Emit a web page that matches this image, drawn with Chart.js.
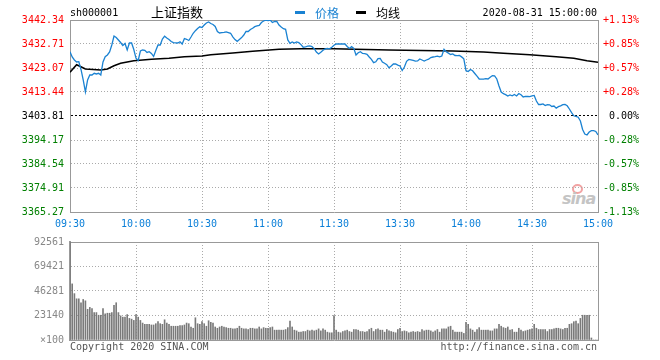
<!DOCTYPE html>
<html><head><meta charset="utf-8">
<script src="https://cdn.jsdelivr.net/npm/chart.js@4/dist/chart.umd.min.js"></script>
<style>
html,body{margin:0;padding:0;background:#fff;}
#wrap{position:relative;width:660px;height:360px;overflow:hidden;background:#fff;}
#c1{position:absolute;left:0;top:0;}
#c2{position:absolute;left:0;top:230px;}
.t{position:absolute;white-space:nowrap;font-family:"DejaVu Sans Mono",monospace;font-size:10px;line-height:12px;}
.cjk{position:absolute;white-space:nowrap;font-family:"Noto Sans CJK SC",sans-serif;}
.bar{position:absolute;height:3px;}
</style></head><body>
<div id="wrap">
<div style="position:absolute;left:572px;top:184px;width:7px;height:6px;border-radius:50%;border:2px solid #f2a3a3;"></div>
<div style="position:absolute;left:562px;top:189px;font:italic bold 16px 'DejaVu Sans',sans-serif;color:#c4c4c4;letter-spacing:-1px;">sina</div>
<canvas id="c1" width="660" height="232"></canvas>
<canvas id="c2" width="660" height="130"></canvas>
<div class="t" style="left:70px;top:7px;color:#000">sh000001</div>
<div class="cjk" style="left:151px;top:4px;font-size:13px;line-height:16px;color:#000">上证指数</div>
<div class="bar" style="left:295px;top:11px;width:10px;background:#1a82d2"></div>
<div class="cjk" style="left:315px;top:5px;font-size:12px;line-height:15px;color:#1a82d2">价格</div>
<div class="bar" style="left:356px;top:11px;width:10px;background:#000"></div>
<div class="cjk" style="left:376px;top:5px;font-size:12px;line-height:15px;color:#000">均线</div>
<div class="t" style="right:63px;top:7px;color:#000">2020-08-31 15:00:00</div>
<div class="t" style="left:70px;top:341px;color:#555">Copyright 2020 SINA.COM</div>
<div class="t" style="right:63px;top:341px;color:#555">http://finance.sina.com.cn</div>
</div>
<script>
// ---- data ----
const preClose = 3403.81;
const timeLabels = ['09:30','10:00','10:30','11:00','11:30','13:30','14:00','14:30','15:00'];
const timeTickMinutes = [0,30,60,90,120,150,180,210,240];
const priceTicks = [3365.27,3374.91,3384.54,3394.17,3403.81,3413.44,3423.07,3432.71,3442.34];
const priceTickLabels = ['3365.27','3374.91','3384.54','3394.17','3403.81','3413.44','3423.07','3432.71','3442.34'];
const pctLabels = ['-1.13%','-0.85%','-0.57%','-0.28%','0.00%','+0.28%','+0.57%','+0.85%','+1.13%'];
const volTicks = [0,23140,46281,69421,92561];
const volTickLabels = ['×100','23140','46281','69421','92561'];

const price = [
3429.62,3427.49,3426.29,3425.49,3425.61,3422.48,3418.26,3413.45,3418.26,3420.27,
3420.27,3420.95,3420.67,3420.95,3420.27,3425.49,3427.61,3428.29,3429.50,3432.31,
3435.92,3435.32,3434.32,3433.31,3432.11,3432.91,3430.30,3433.11,3433.11,3430.50,
3426.97,3426.09,3429.90,3430.30,3430.18,3429.30,3429.62,3428.90,3427.69,3430.10,
3432.31,3432.31,3434.72,3435.84,3435.12,3434.52,3433.71,3433.23,3433.19,3433.11,
3433.63,3432.71,3434.92,3434.60,3434.12,3435.52,3437.01,3438.05,3438.89,3439.61,
3439.33,3440.34,3441.14,3441.54,3440.94,3440.54,3439.74,3437.73,3437.13,3437.25,
3437.33,3437.53,3437.29,3437.01,3435.60,3434.48,3433.79,3434.52,3435.28,3436.32,
3437.73,3437.73,3438.53,3439.01,3439.65,3439.94,3440.14,3441.34,3441.94,3442.26,
3442.14,3442.34,3441.34,3441.74,3441.74,3440.34,3439.53,3438.85,3438.61,3434.32,
3432.99,3433.55,3433.11,3433.55,3433.23,3432.47,3431.39,3431.51,3431.87,3431.91,
3431.63,3430.86,3429.46,3428.70,3429.38,3430.18,3430.74,3430.98,3430.78,3431.43,
3432.19,3432.71,3432.71,3432.71,3432.71,3432.71,3431.71,3430.90,3431.63,3430.98,
3428.29,3429.22,3429.62,3428.90,3428.82,3428.58,3427.49,3426.53,3425.20,3425.57,
3426.81,3426.93,3425.49,3424.96,3424.40,3423.16,3423.88,3424.68,3424.68,3424.20,
3423.88,3422.07,3423.48,3425.73,3426.49,3426.29,3426.09,3425.81,3425.89,3426.69,
3426.29,3425.89,3426.29,3426.61,3427.29,3427.49,3427.61,3427.81,3427.53,3427.89,
3430.58,3429.58,3429.06,3428.50,3428.70,3428.09,3428.05,3428.09,3427.53,3426.77,
3421.99,3421.67,3422.48,3421.95,3420.87,3419.79,3418.66,3418.62,3418.58,3418.82,
3418.66,3419.38,3420.03,3419.95,3418.66,3415.85,3413.44,3412.76,3412.40,3411.84,
3412.24,3411.92,3412.44,3411.84,3412.84,3412.36,3411.44,3411.68,3411.64,3411.56,
3411.84,3412.04,3409.83,3408.43,3408.43,3408.63,3407.98,3408.39,3408.31,3407.62,
3407.82,3406.94,3407.54,3407.90,3408.39,3408.43,3407.90,3406.62,3405.17,3403.89,
3403.61,3403.33,3401.80,3398.39,3396.58,3396.18,3397.38,3397.91,3397.91,3397.59,
3396.18
];

const avgMinutes = [0,3,4,7,14,17,20,23,29,37,45,52,60,64,74,83,95,105,120,145,174,188,197,209,221,229,235,240];
const avgValues = [3421.35,3424.40,3424.00,3422.68,3422.27,3422.68,3424.00,3424.96,3426.01,3426.57,3426.97,3427.61,3427.89,3428.42,3429.10,3429.78,3430.58,3430.82,3430.82,3430.30,3429.90,3429.50,3428.98,3428.42,3427.61,3426.97,3426.01,3425.37];

const volume = [
92561,53000,43800,38900,38900,35200,38300,37000,29000,30800,
29600,25900,25900,23400,23400,29600,24700,25300,25300,25900,
32700,35200,25900,22800,21600,21600,24000,20400,19700,18500,
24000,21600,18500,16000,14800,14800,14800,14200,14200,15400,
17300,15400,14800,19100,16000,14800,13000,13000,13000,13000,
13600,13600,14200,16000,15400,12300,11100,21000,15400,14800,
17300,15400,13000,18200,16700,16000,12300,11100,12300,13000,
12300,11700,11100,11100,10500,10500,11100,13000,11100,10500,
10500,9900,11100,11100,10500,10500,12300,10500,11700,11100,
11100,11700,12300,9300,9300,9300,9300,9300,9900,11700,
17900,12300,9300,8600,7400,7400,8000,8000,9300,8600,
9300,8600,9300,10500,8600,10500,9300,7400,6800,6800,
23100,9300,7400,6800,8000,8600,9300,8000,7400,9900,
9900,9300,8000,8000,7400,8000,9900,11100,8000,9900,
10500,9300,9300,7400,9900,8600,8000,7400,6800,9900,
11100,8000,8600,8000,6800,7400,8000,7400,8000,7400,
9900,8600,9300,9300,8600,7400,8600,9900,7400,10500,
10500,10500,12300,13000,9300,7400,7400,7400,7400,6200,
16700,14800,10500,9300,7400,9900,11700,9300,9300,9300,
9300,8600,8600,10500,10500,14800,13000,11700,11100,12300,
9300,9900,7400,7400,11100,9300,8000,8600,9300,9900,
10500,14800,11100,9900,9900,9900,9900,8000,9900,9900,
10500,11100,11100,10500,9900,11100,11100,14800,15400,17300,
17900,15400,20400,23400,23400,23400,23400,1900,0,0,
0
];

// ---- chart ----
const FONT = {family:'DejaVu Sans Mono', size:10};
const dotted = [1,2];
const tickSetter = arr => s => { s.ticks = arr.map(v => ({value: v})); };

const xCommon = (showLabels) => ({
  type:'linear', min:0, max:240, offset:false,
  afterBuildTicks: tickSetter(timeTickMinutes),
  afterFit: s => { s.height = 20; },
  ticks:{display:showLabels, autoSkip:false, maxRotation:0, padding:6, color:'#0a7fd8', font:FONT,
         callback:(v,i)=>timeLabels[i]},
  grid:{offset:false, drawTicks:false, lineWidth:1,
        color: c => (c.index===0 || c.index===timeTickMinutes.length-1) ? 'rgba(0,0,0,0)' : '#aaa'},
  border:{color:'#999', width:1, dash:dotted}
});

new Chart(document.getElementById('c1'), {
  type:'line',
  data:{datasets:[
    {label:'价格', data: price.map((v,i)=>({x:i,y:v})), borderColor:'#1a82d2', borderWidth:1.3,
     pointRadius:0, tension:0, yAxisID:'y'},
    {label:'均线', data: avgMinutes.map((m,k)=>({x:m,y:avgValues[k]})), borderColor:'#000', borderWidth:1.6,
     pointRadius:0, tension:0, yAxisID:'y'}
  ]},
  options:{
    responsive:false, animation:false, events:[],
    layout:{padding:{top:20,right:21,left:0,bottom:0}},
    plugins:{legend:{display:false}, tooltip:{enabled:false}},
    scales:{
      x: xCommon(true),
      y:{type:'linear', position:'left', min:priceTicks[0], max:priceTicks[priceTicks.length-1],
         afterBuildTicks: tickSetter(priceTicks),
         afterFit: s => { s.width = 70; },
         ticks:{padding:6, font:FONT, callback:(v,i)=>priceTickLabels[i],
                color: c => c.index < 4 ? '#008000' : (c.index === 4 ? '#000' : '#ff0000')},
         grid:{drawTicks:false, lineWidth:1,
               color: c => c.index===0 ? 'rgba(0,0,0,0)' : (c.index===priceTicks.length-1 ? '#999' : (c.index===4 ? '#000' : '#aaa'))},
         border:{color:'#999', width:1,
               dash: c => (c.index===undefined) ? [] : (c.index===priceTicks.length-1 ? [] : (c.index===4 ? [2,2] : dotted))}
      },
      yR:{type:'linear', position:'right', min:priceTicks[0], max:priceTicks[priceTicks.length-1],
         afterBuildTicks: tickSetter(priceTicks),
         afterFit: s => { s.width = 41; },
         ticks:{padding:0, crossAlign:'far', font:FONT, callback:(v,i)=>pctLabels[i],
                color: c => c.index < 4 ? '#008000' : (c.index === 4 ? '#000' : '#ff0000')},
         grid:{drawTicks:false, drawOnChartArea:false},
         border:{color:'#999', width:1}
      }
    }
  }
});

new Chart(document.getElementById('c2'), {
  type:'bar',
  data:{datasets:[
    {label:'成交量', data: volume.map((v,i)=>({x:i,y:v})), backgroundColor:'#7a7a7a', borderWidth:0,
     barThickness:1, yAxisID:'y'}
  ]},
  options:{
    responsive:false, animation:false, events:[],
    layout:{padding:{top:10,right:62,left:0,bottom:0}},
    plugins:{legend:{display:false}, tooltip:{enabled:false}},
    scales:{
      x: xCommon(false),
      y:{type:'linear', position:'left', min:0, max:volTicks[volTicks.length-1],
         afterBuildTicks: tickSetter(volTicks),
         afterFit: s => { s.width = 70; },
         ticks:{padding:6, font:FONT, color:'#888', callback:(v,i)=>volTickLabels[i]},
         grid:{drawTicks:false, lineWidth:1,
               color: c => c.index===0 ? 'rgba(0,0,0,0)' : (c.index===volTicks.length-1 ? '#999' : '#aaa')},
         border:{color:'#999', width:2,
               dash: c => (c.index===undefined || c.index===volTicks.length-1) ? [] : dotted}
      },
      yR:{type:'linear', position:'right', min:0, max:volTicks[volTicks.length-1],
         afterFit: s => { s.width = 0; },
         ticks:{display:false},
         grid:{drawTicks:false, drawOnChartArea:false},
         border:{color:'#999', width:1}
      }
    }
  }
});
</script>
</body></html>
